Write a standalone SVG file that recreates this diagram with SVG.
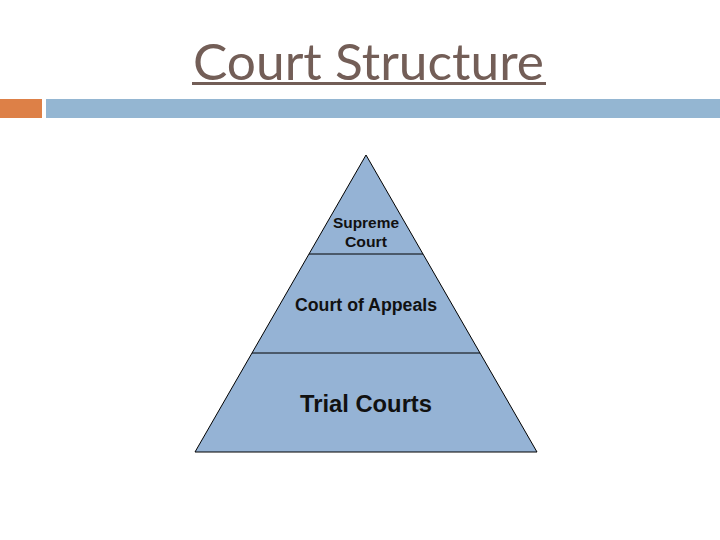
<svg xmlns="http://www.w3.org/2000/svg" width="720" height="540" viewBox="0 0 720 540">
<style>
.t{font-family:"Liberation Sans",Arial,sans-serif;fill:#111;text-anchor:middle;font-weight:bold}
.div{stroke:#000;stroke-width:1}
</style>
<rect x="0" y="0" width="720" height="540" fill="#fff"/>
<g id="title">
<text x="193" y="80" font-family="Lato,'Open Sans',sans-serif" font-weight="400" font-size="50" fill="#735e57" textLength="351" lengthAdjust="spacingAndGlyphs">Court Structure</text>
<rect x="192" y="82" width="354" height="3" fill="#735e57"/>
</g>
<g id="bars">
<rect x="0" y="99" width="42" height="19" fill="#dd8047"/>
<rect x="46" y="99" width="674" height="19" fill="#94b6d2"/>
</g>
<g id="pyramid">
<polygon points="366,155 537,452 195,452" fill="#95b3d5" stroke="#000" stroke-width="1"/>
</g>
<g id="connectors">
<line class="div" x1="309" y1="254" x2="423" y2="254"/>
<line class="div" x1="252" y1="353" x2="480" y2="353"/>
</g>
<g id="supreme">
<text class="t" x="366" y="228" font-size="15" textLength="66" lengthAdjust="spacingAndGlyphs">Supreme</text>
<text class="t" x="366" y="247" font-size="15" textLength="42" lengthAdjust="spacingAndGlyphs">Court</text>
</g>
<g id="appeals">
<text class="t" x="366" y="311" font-size="17.5" textLength="142" lengthAdjust="spacingAndGlyphs">Court of Appeals</text>
</g>
<g id="trial">
<text class="t" x="366" y="412" font-size="23" textLength="132" lengthAdjust="spacingAndGlyphs">Trial Courts</text>
</g>
</svg>
